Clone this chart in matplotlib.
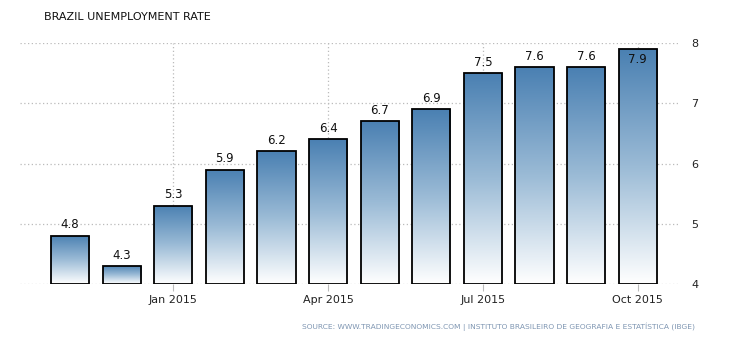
import matplotlib
matplotlib.use("Agg")
import matplotlib.pyplot as plt
import numpy as np
from matplotlib.colors import LinearSegmentedColormap

months = ["Nov 2014", "Dec 2014", "Jan 2015", "Feb 2015", "Mar 2015", "Apr 2015",
          "May 2015", "Jun 2015", "Jul 2015", "Aug 2015", "Sep 2015", "Oct 2015"]
rates = [4.8, 4.3, 5.3, 5.9, 6.2, 6.4, 6.7, 6.9, 7.5, 7.6, 7.6, 7.9]
tick_labels = ["Jan 2015", "Apr 2015", "Jul 2015", "Oct 2015"]
yticks = [4, 5, 6, 7, 8]

fig = plt.figure(figsize=(7.3, 3.4), dpi=100)
ax = fig.add_axes([20/730, (340-284)/340, 660/730, (284-43)/340])

x = np.arange(len(months))
bars = ax.bar(x, [r - 4 for r in rates], bottom=4, width=0.74,
              facecolor="none", edgecolor="black", linewidth=1.3, zorder=3)

cmap = LinearSegmentedColormap.from_list("g", ["#ffffff", "#9bbbd6", "#4a80b2"])
grad = np.linspace(0, 1, 256).reshape(-1, 1)
for b in bars:
    x0, y0 = b.get_x(), b.get_y()
    w, h = b.get_width(), b.get_height()
    im = ax.imshow(grad, cmap=cmap, aspect="auto", origin="lower",
                   extent=[x0, x0 + w, y0, y0 + h], zorder=2)
    im.set_clip_path(b)

for xi, r in zip(x, rates):
    if r >= 7.8:
        ax.text(xi, r - 0.17, f"{r}", ha="center", va="center", fontsize=8.5, color="#111111", zorder=4)
    else:
        ax.text(xi, r + 0.18, f"{r}", ha="center", va="center", fontsize=8.5, color="#111111", zorder=4)

ax.set_xlim(-0.97, 11.82)
ax.set_ylim(4, 8)
tick_pos = [months.index(m) for m in tick_labels]
ax.set_xticks(tick_pos)
ax.set_xticklabels(tick_labels, fontsize=8, color="#222222")
ax.set_yticks(yticks)
ax.set_yticklabels([str(v) for v in yticks], fontsize=8, color="#222222")
ax.yaxis.tick_right()
ax.tick_params(axis="y", length=0, pad=8)
ax.tick_params(axis="x", length=5, color="#bbbbbb", pad=3)
ax.grid(True, linestyle=(0, (1, 2)), color="#bbbbbb", linewidth=0.9, zorder=0)
ax.set_axisbelow(True)
for s in ax.spines.values():
    s.set_visible(False)

fig.text(44/730, 1 - 17/340, "BRAZIL UNEMPLOYMENT RATE", fontsize=8, color="#111111", va="center")
fig.text(695/730, 1 - 327/340,
         "SOURCE: WWW.TRADINGECONOMICS.COM | INSTITUTO BRASILEIRO DE GEOGRAFIA E ESTATÍSTICA (IBGE)",
         fontsize=5.4, color="#7f96b2", va="center", ha="right")

fig.savefig("out.png", dpi=100)
